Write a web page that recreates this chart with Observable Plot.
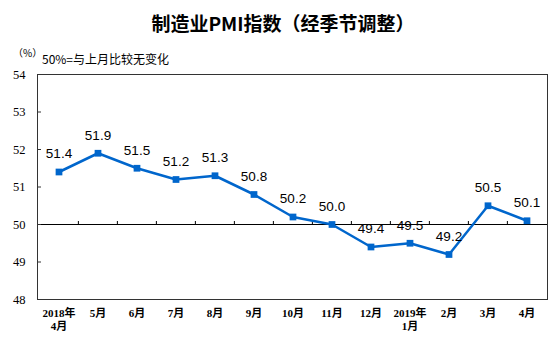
<!DOCTYPE html>
<html><head><meta charset="utf-8">
<script src="https://cdn.jsdelivr.net/npm/d3@7"></script>
<script src="https://cdn.jsdelivr.net/npm/@observablehq/plot@0.6"></script>
<style>
body{margin:0;background:#fff;}
#wrap{position:relative;width:553px;height:346px;overflow:hidden;}
#title{position:absolute;left:0;width:566px;top:10px;text-align:center;font-weight:bold;font-size:19px;font-family:"Noto Sans CJK SC";line-height:26px;color:#000;}
#unit{position:absolute;left:13px;top:46px;font-size:10px;font-family:"Noto Sans CJK SC";color:#000;line-height:14px;}
#note{position:absolute;left:42px;top:52px;font-size:12px;font-family:"Noto Sans CJK SC";color:#000;line-height:14px;}
#chart{position:absolute;left:0;top:0;}
</style></head>
<body>
<div id="wrap">
<div id="chart"></div>
<div id="title">制造业PMI指数（经季节调整）</div>
<div id="unit">（%）</div>
<div id="note">50%=与上月比较无变化</div>
</div>
<script>
const months = ["2018年\n4月","5月","6月","7月","8月","9月","10月","11月","12月","2019年\n1月","2月","3月","4月"];
const pmi = [51.4,51.9,51.5,51.2,51.3,50.8,50.2,50.0,49.4,49.5,49.2,50.5,50.1];
const yTicks = [48,49,50,51,52,53,54];
const baseline = 50;

const data = months.map((m,i)=>({month:m, value:pmi[i]}));
const W = 553, H = 346, mL = 37, mR = 6, mT = 74, mB = 47;
const bw = (W - mL - mR) / months.length;
const tickLen = 3 * (yTicks[yTicks.length-1]-yTicks[0]) / (H - mT - mB);

const chart = Plot.plot({
  width: W, height: H,
  marginLeft: mL, marginRight: mR, marginTop: mT, marginBottom: mB,
  style: {background: "transparent", overflow: "visible"},
  x: {type: "band", domain: months, padding: 0, label: null},
  y: {domain: [yTicks[0], yTicks[yTicks.length-1]], label: null},
  marks: [
    Plot.ruleY([baseline], {stroke: "#000", strokeWidth: 1}),
    Plot.ruleX(months.slice(1), {x: d => d, y1: baseline, y2: baseline + tickLen, dx: -bw/2, stroke: "#000"}),
    Plot.axisY({ticks: yTicks, tickFormat: "d", tickSize: 0, tickPadding: 12, fontSize: 12.5, fontFamily: "Liberation Serif", fill: "#000", label: null}),
    Plot.axisY({ticks: yTicks, tickSize: -4, tickFormat: () => "", stroke: "#333", label: null}),
    Plot.axisX({tickSize: 0, tickPadding: 9, fontSize: 11, fontWeight: "bold", fontFamily: "Liberation Serif, Noto Sans CJK SC", lineHeight: 1.15, fill: "#000", label: null}),
    Plot.frame({stroke: "#333"}),
    Plot.line(data, {x: "month", y: "value", stroke: "#0066cc", strokeWidth: 2.5}),
    Plot.dot(data, {x: "month", y: "value", symbol: "square", r: 3.8, fill: "#0066cc", stroke: "none"}),
    Plot.text(data, {x: "month", y: "value", text: d => d.value.toFixed(1), dy: -18, fontSize: 13.5, fontFamily: "Liberation Sans", fill: "#000"})
  ]
});
document.getElementById("chart").appendChild(chart);
</script>
</body></html>
